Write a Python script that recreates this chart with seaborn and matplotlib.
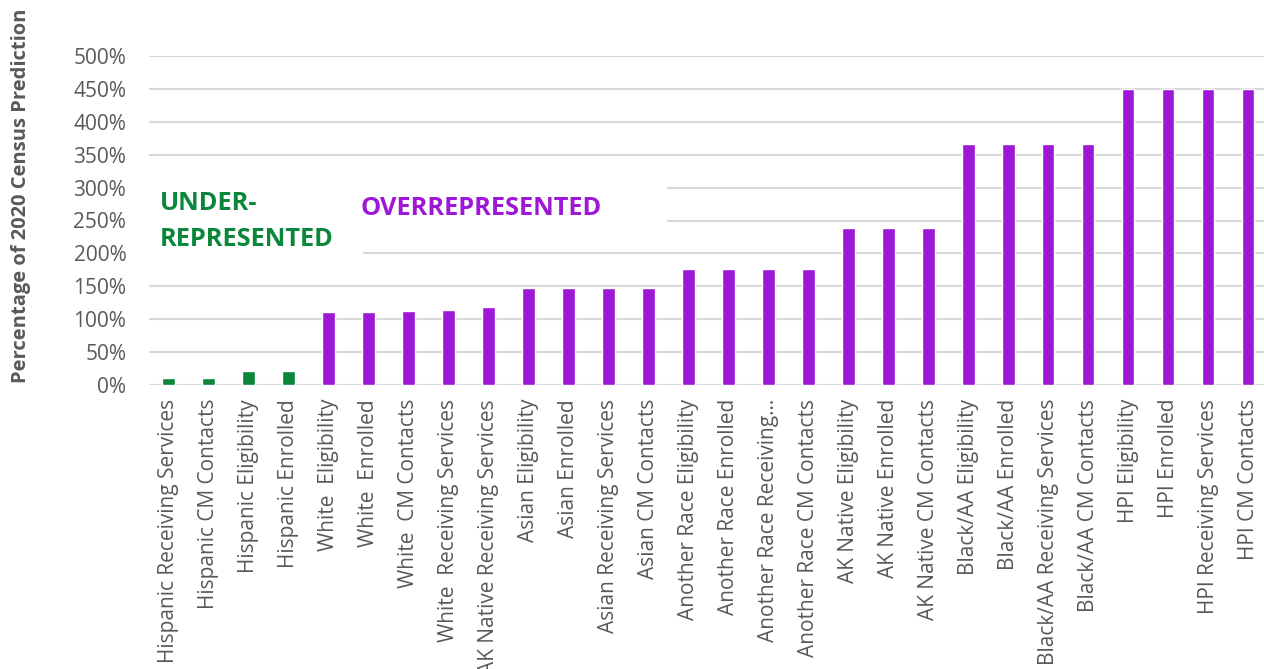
import matplotlib
matplotlib.use("Agg")
import matplotlib.pyplot as plt
import seaborn as sns
import pandas as pd
from matplotlib.patches import Rectangle
from matplotlib.ticker import FuncFormatter

categories = [
    "Hispanic Receiving Services", "Hispanic CM Contacts", "Hispanic Eligibility",
    "Hispanic Enrolled", "White  Eligibility", "White  Enrolled", "White  CM Contacts",
    "White  Receiving Services", "AK Native Receiving Services", "Asian Eligibility",
    "Asian Enrolled", "Asian Receiving Services", "Asian CM Contacts",
    "Another Race Eligibility", "Another Race Enrolled", "Another Race Receiving…",
    "Another Race CM Contacts", "AK Native Eligibility", "AK Native Enrolled",
    "AK Native CM Contacts", "Black/AA Eligibility", "Black/AA Enrolled",
    "Black/AA Receiving Services", "Black/AA CM Contacts", "HPI Eligibility",
    "HPI Enrolled", "HPI Receiving Services", "HPI CM Contacts",
]
values = [10, 10, 21, 21, 111, 111, 112, 114, 119, 148, 148, 148, 148,
          177, 177, 177, 177, 238, 238, 238, 366, 366, 366, 366,
          450, 450, 450, 450]
groups = ["Under"] * 4 + ["Over"] * 24
yticks = [0, 50, 100, 150, 200, 250, 300, 350, 400, 450, 500]

GREEN = "#0B873B"
PURPLE = "#9E16D6"
GRAY = "#595959"

df = pd.DataFrame({"category": categories, "value": values, "group": groups})

sns.set_theme(style="white")
plt.rcParams["font.family"] = ["Open Sans", "DejaVu Sans"]

W, H = 1264, 669
fig = plt.figure(figsize=(W / 100, H / 100), dpi=100)
ax_l, ax_r, ax_t, ax_b = 148.5, 1268, 56, 385
ax = fig.add_axes([ax_l / W, 1 - ax_b / H, (ax_r - ax_l) / W, (ax_b - ax_t) / H])

sns.barplot(data=df, x="category", y="value", hue="group",
            palette={"Under": GREEN, "Over": PURPLE}, dodge=False,
            width=0.32, legend=False, ax=ax, zorder=3, saturation=1)

ax.set_xlim(-0.5, len(categories) - 0.5)
ax.set_ylim(0, 500)
ax.set_yticks(yticks)
ax.yaxis.set_major_formatter(FuncFormatter(lambda v, p: f"{int(v)}%"))
ax.grid(axis="y", color="#D9D9D9", linewidth=1.5, zorder=0)
ax.set_axisbelow(True)
for s in ax.spines.values():
    s.set_visible(False)
ax.set_xlabel("")
ax.set_ylabel("")
ax.tick_params(axis="y", length=0, pad=16, labelsize=15, labelcolor=GRAY)
ax.tick_params(axis="x", length=0, pad=10, labelsize=15, labelcolor=GRAY)
plt.setp(ax.get_xticklabels(), rotation=90, ha="center", va="top")


def ax_xy(px, py):
    return (px - ax_l) / (ax_r - ax_l), (ax_b - py) / (ax_b - ax_t)

# white boxes behind annotations (hide gridlines)
x0, y0 = ax_xy(146, 262)
x1, y1 = ax_xy(363, 176)
ax.add_patch(Rectangle((x0, y0), x1 - x0, y1 - y0, transform=ax.transAxes,
                       facecolor="white", edgecolor="none", zorder=1, clip_on=False))
x0, y0 = ax_xy(363, 236)
x1, y1 = ax_xy(667, 176)
ax.add_patch(Rectangle((x0, y0), x1 - x0, y1 - y0, transform=ax.transAxes,
                       facecolor="white", edgecolor="none", zorder=1, clip_on=False))

tx, ty = ax_xy(159.5, 191)
ax.text(tx, ty, "UNDER-\nREPRESENTED", transform=ax.transAxes, ha="left", va="top",
        fontsize=18.3, fontweight="bold", color=GREEN, linespacing=1.6, zorder=4)
tx, ty = ax_xy(360.5, 196)
ax.text(tx, ty, "OVERREPRESENTED", transform=ax.transAxes, ha="left", va="top",
        fontsize=18.3, fontweight="bold", color=PURPLE, zorder=4)

fig.text(21 / W, 1 - 383 / H, "Percentage of 2020 Census Prediction", rotation=90,
         ha="center", va="bottom", fontsize=14.5, fontweight="bold", color=GRAY)

fig.savefig("out.png", dpi=100)
